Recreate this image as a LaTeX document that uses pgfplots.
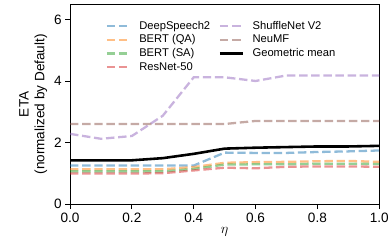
\documentclass[border=0pt]{standalone}
\usepackage{pgfplots}
\pgfplotsset{compat=1.18}
\usepackage{fontspec}
\setmainfont{Liberation Sans}
\definecolor{tabblue}{RGB}{31,119,180}
\definecolor{taborange}{RGB}{255,127,14}
\definecolor{tabgreen}{RGB}{44,160,44}
\definecolor{tabred}{RGB}{214,39,40}
\definecolor{tabpurple}{RGB}{148,103,189}
\definecolor{tabbrown}{RGB}{140,86,75}
\begin{document}
\begin{tikzpicture}
\begin{axis}[
  scale only axis,
  width=311bp, height=201bp,
  xmin=0, xmax=1, ymin=0, ymax=6.5,
  xtick={0,0.2,0.4,0.6,0.8,1.0},
  ytick={0,2,4,6},
  xticklabel style={/pgf/number format/.cd,fixed,fixed zerofill,precision=1},
  /pgf/number format/assume math mode=true,
  tick align=outside,
  xtick pos=bottom, ytick pos=left,
  major tick length=5bp,
  tick style={black, line width=0.9bp},
  axis line style={line width=0.9bp},
  ticklabel style={font=\fontsize{13.7}{16}\selectfont},
  label style={font=\fontsize{13.7}{16}\selectfont},
  xlabel={$\eta$},
  ylabel={ETA\\(normalized by Default)},
  ylabel style={align=center},
  xlabel style={yshift=2bp},
  legend columns=4,
  transpose legend,
  legend cell align=left,
  legend style={draw=none, fill=none, at={(rel axis cs:0.105,0.935)}, anchor=north west,
    font=\fontsize{11.3}{13}\selectfont, column sep=7bp, row sep=1.2bp,
    nodes={inner sep=1.5bp}},
  legend image code/.code={\draw[#1] (0bp,0bp) -- (23bp,0bp);},
  every axis plot/.append style={line width=2.3bp, dash pattern=on 8.5bp off 3.7bp},
]
\addplot[tabblue, opacity=0.5] coordinates {(0,1.26)(0.1,1.26)(0.2,1.26)(0.3,1.26)(0.4,1.26)(0.5,1.68)(0.6,1.67)(0.7,1.67)(0.8,1.70)(0.9,1.72)(1.0,1.75)};
\addlegendentry{DeepSpeech2}
\addplot[taborange, opacity=0.5] coordinates {(0,1.14)(0.1,1.14)(0.2,1.14)(0.3,1.14)(0.4,1.21)(0.5,1.35)(0.6,1.37)(0.7,1.38)(0.8,1.40)(0.9,1.41)(1.0,1.38)};
\addlegendentry{BERT (QA)}
\addplot[tabgreen, opacity=0.5] coordinates {(0,1.07)(0.1,1.07)(0.2,1.07)(0.3,1.07)(0.4,1.15)(0.5,1.29)(0.6,1.30)(0.7,1.30)(0.8,1.32)(0.9,1.32)(1.0,1.31)};
\addlegendentry{BERT (SA)}
\addplot[tabred, opacity=0.5] coordinates {(0,1.00)(0.1,1.00)(0.2,1.00)(0.3,1.01)(0.4,1.10)(0.5,1.19)(0.6,1.17)(0.7,1.22)(0.8,1.23)(0.9,1.23)(1.0,1.22)};
\addlegendentry{ResNet-50}
\addplot[tabpurple, opacity=0.5] coordinates {(0,2.29)(0.1,2.13)(0.2,2.22)(0.3,2.88)(0.4,4.13)(0.5,4.13)(0.6,4.01)(0.7,4.19)(0.8,4.19)(0.9,4.19)(1.0,4.19)};
\addlegendentry{ShuffleNet V2}
\addplot[tabbrown, opacity=0.5] coordinates {(0,2.61)(0.1,2.61)(0.2,2.61)(0.3,2.61)(0.4,2.61)(0.5,2.61)(0.6,2.71)(0.7,2.71)(0.8,2.71)(0.9,2.71)(1.0,2.71)};
\addlegendentry{NeuMF}
\addplot[black, solid, line width=2.6bp] coordinates {(0,1.43)(0.1,1.43)(0.2,1.43)(0.3,1.50)(0.4,1.64)(0.5,1.81)(0.6,1.84)(0.7,1.86)(0.8,1.88)(0.9,1.88)(1.0,1.90)};
\addlegendentry{Geometric mean}
\end{axis}
\path (current axis.outer south west) ++(-16bp,-4bp);
\path (current axis.outer north east) ++(0bp,4bp);
\end{tikzpicture}
\end{document}
